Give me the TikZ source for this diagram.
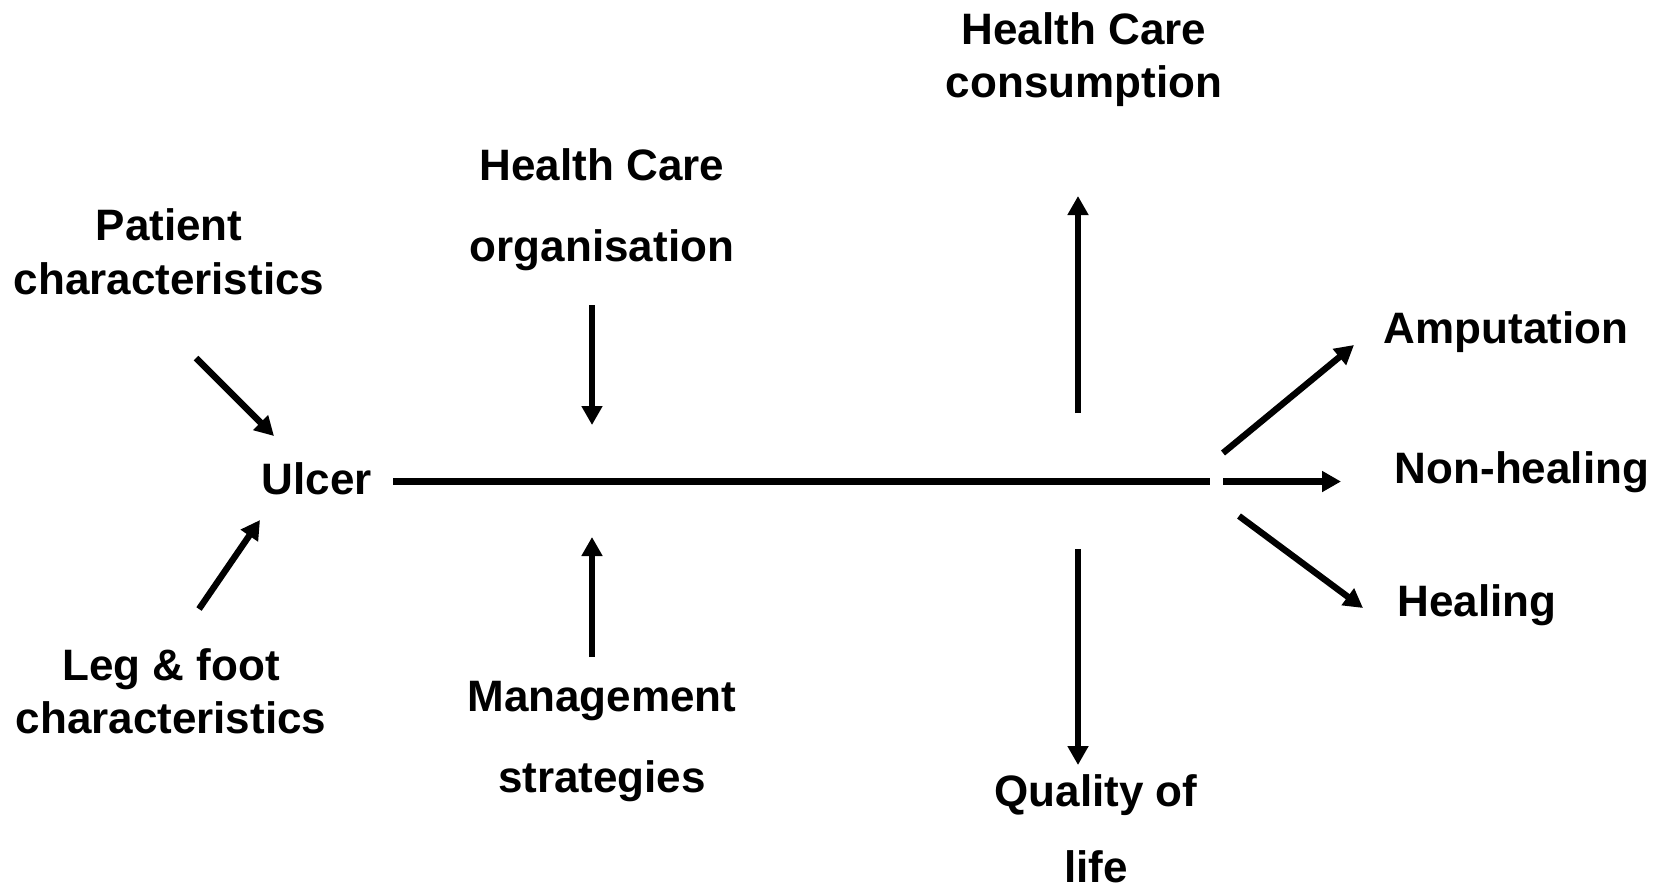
\documentclass[tikz,border=0pt]{standalone}
\usepackage{fontspec}
\setmainfont{Liberation Sans}
\usetikzlibrary{arrows.meta}
\begin{document}
\begin{tikzpicture}[x=0.5pt,y=-0.5pt,
  label/.style={inner sep=0pt, align=center,
    font=\bfseries\fontsize{22}{24.5}\selectfont},
  link/.style={line width=3.2pt},
  arrowlink/.style={link, -{Triangle[length=9.5pt,width=10pt]}}]
\useasboundingbox (0,0) rectangle (1670,891);

% factor and outcome labels
\node[label] (ulcer) at (317,484.2) {\strut Ulcer};
\node[label] (pat) at (169,257.2) {\strut Patient\\[2.5pt]\strut characteristics};
\node[label] (leg) at (171,696.7) {\strut Leg \& foot\\[2pt]\strut characteristics};
\node[label] (hco) at (602,210.7) {\strut Health Care\\[16pt]\strut organisation};
\node[label] (mgt) at (602,741.7) {\strut Management\\[16pt]\strut strategies};
\node[label] (hcc) at (1084,60.7) {\strut Health Care\\[2pt]\strut consumption};
% last line has no descenders, so no strut below it
\node[label] (qol) at (1096,827.9) {\strut Quality of\\[13.5pt]life};
\node[label] (amp) at (1506,333.2) {\strut Amputation};
\node[label] (nonh) at (1522,473.2) {\strut Non-healing};
\node[label] (heal) at (1477,606.2) {\strut Healing};

% connector end points
\coordinate (patTail) at (196,358);   \coordinate (patHead) at (274,436);
\coordinate (legTail) at (199,609);   \coordinate (legHead) at (260,520);
\coordinate (hcoTail) at (592,305);   \coordinate (hcoHead) at (592,425);
\coordinate (mgtTail) at (592,657);   \coordinate (mgtHead) at (592,537);
\coordinate (axisStart) at (393,481.5);
\coordinate (axisEnd) at (1210,481.5);
\coordinate (nonhTail) at (1223,481.5); \coordinate (nonhHead) at (1341,481.5);
\coordinate (ampTail) at (1223,453);  \coordinate (ampHead) at (1354,345);
\coordinate (healTail) at (1239,516); \coordinate (healHead) at (1363,608);
\coordinate (hccTail) at (1078,413);  \coordinate (hccHead) at (1078,196);
\coordinate (qolTail) at (1078,549);  \coordinate (qolHead) at (1078,765);

% influences on the ulcer course
\draw[arrowlink] (patTail) -- (patHead);
\draw[arrowlink] (legTail) -- (legHead);
\draw[arrowlink] (hcoTail) -- (hcoHead);
\draw[arrowlink] (mgtTail) -- (mgtHead);

% course of the ulcer
\draw[link] (axisStart) -- (axisEnd);

% consequences and outcomes
\draw[arrowlink] (hccTail) -- (hccHead);
\draw[arrowlink] (qolTail) -- (qolHead);
\draw[arrowlink] (ampTail) -- (ampHead);
\draw[arrowlink] (nonhTail) -- (nonhHead);
\draw[arrowlink] (healTail) -- (healHead);
\end{tikzpicture}
\end{document}
